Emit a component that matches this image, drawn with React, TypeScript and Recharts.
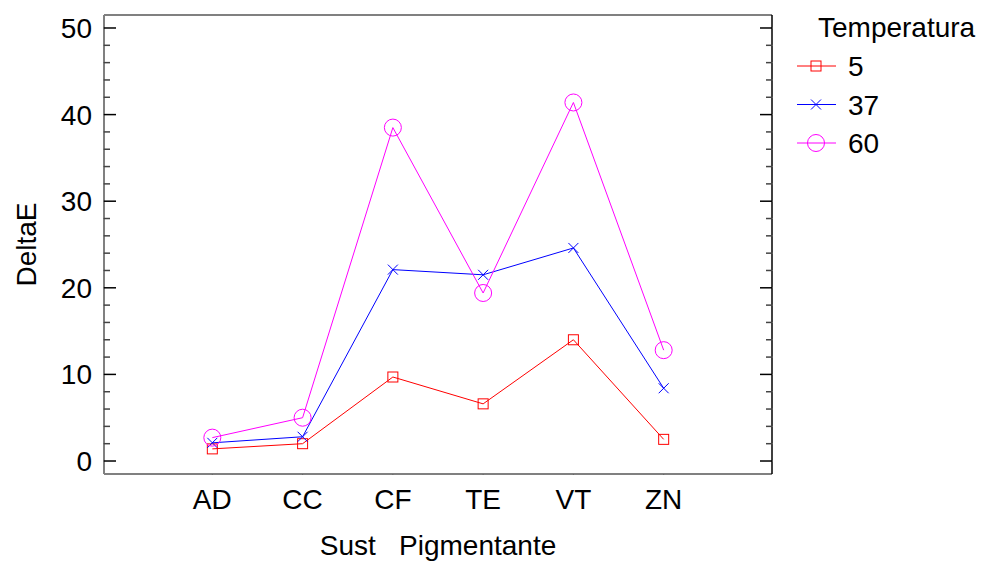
import { LineChart, Line, XAxis, YAxis, Legend } from "recharts";

const categories = ["AD", "CC", "CF", "TE", "VT", "ZN"];
const temp5 = [1.4, 2.0, 9.7, 6.6, 14.0, 2.5];
const temp37 = [2.1, 2.8, 22.1, 21.5, 24.6, 8.4];
const temp60 = [2.7, 5.0, 38.5, 19.4, 41.4, 12.8];
const yTicks = [0, 2, 4, 6, 8, 10, 12, 14, 16, 18, 20, 22, 24, 26, 28, 30, 32, 34, 36, 38, 40, 42, 44, 46, 48, 50];
const seriesNames = ["5", "37", "60"];

const data = categories.map((name, i) => ({
  idx: i,
  name,
  t5: temp5[i],
  t37: temp37[i],
  t60: temp60[i],
}));

const FONT = "'Liberation Sans', Arial, sans-serif";
const RED = "#ff0000";
const BLUE = "#0000ff";
const MAGENTA = "#ff00ff";

// tickSize is 1 on every axis, so the tick anchor sits 1px off the axis line
function LeftTick(props: any) {
  const { y, payload } = props;
  const x = props.x + 1;
  const major = payload.value % 10 === 0;
  return (
    <g>
      <line x1={x} x2={x + (major ? 12 : 6)} y1={y} y2={y} stroke={major ? "#000" : "#444"} strokeWidth={1.5} />
      {major && (
        <text x={x - 12} y={y + 10} textAnchor="end" fontSize={28} fontFamily={FONT} fill="#000">
          {payload.value}
        </text>
      )}
    </g>
  );
}

function RightTick(props: any) {
  const { y, payload } = props;
  const x = props.x - 1;
  const major = payload.value % 10 === 0;
  return <line x1={x} x2={x - (major ? 12 : 6)} y1={y} y2={y} stroke={major ? "#000" : "#444"} strokeWidth={1.5} />;
}

function BottomTick(props: any) {
  const { x, payload } = props;
  const y = props.y - 1;
  return (
    <text x={x} y={y + 35} textAnchor="middle" fontSize={28} fontFamily={FONT} fill="#000">
      {categories[payload.value]}
    </text>
  );
}

function Square(props: any) {
  const { cx, cy, stroke } = props;
  return <rect x={cx - 5} y={cy - 5} width={10} height={10} fill="none" stroke={stroke} strokeWidth={1} />;
}

function Cross(props: any) {
  const { cx, cy, stroke } = props;
  return (
    <g>
      <line x1={cx - 5} y1={cy - 5} x2={cx + 5} y2={cy + 5} stroke={stroke} strokeWidth={1} />
      <line x1={cx - 5} y1={cy + 5} x2={cx + 5} y2={cy - 5} stroke={stroke} strokeWidth={1} />
    </g>
  );
}

function Ring(props: any) {
  const { cx, cy, stroke } = props;
  return <circle cx={cx} cy={cy} r={8.5} fill="none" stroke={stroke} strokeWidth={1} />;
}

const markers = [Square, Cross, Ring];
const colors = [RED, BLUE, MAGENTA];

function LegendBox() {
  return (
    <svg width={200} height={160} style={{ display: "block" }}>
      <text x={28} y={37} fontSize={28} fontFamily={FONT} fill="#000">
        Temperatura
      </text>
      {seriesNames.map((name, i) => {
        const cy = 66 + i * 38.5;
        const Marker = markers[i];
        return (
          <g key={name}>
            <line x1={7} x2={46} y1={cy} y2={cy} stroke={colors[i]} strokeWidth={1} />
            <Marker cx={26} cy={cy} stroke={colors[i]} />
            <text x={58} y={cy + 10} fontSize={28} fontFamily={FONT} fill="#000">
              {name}
            </text>
          </g>
        );
      })}
    </svg>
  );
}

export default function App() {
  return (
    <div style={{ position: "absolute", left: 0, top: 0 }}>
      <LineChart width={992} height={561} data={data} margin={{ top: 14, right: 219, bottom: 0, left: 0 }}>
        <XAxis
          xAxisId="bottom"
          type="number"
          dataKey="idx"
          domain={[-1.2, 6.2]}
          ticks={[0, 1, 2, 3, 4, 5]}
          interval={0}
          height={87}
          tickSize={1}
          tickMargin={0}
          tick={<BottomTick />}
          axisLine={{ stroke: "#808080", strokeWidth: 2 }}
          label={{
            value: "Sust   Pigmentante",
            content: (p: any) => {
              const vb = p.viewBox;
              return (
                <text x={vb.x + vb.width / 2} y={555} textAnchor="middle" fontSize={28} fontFamily={FONT} fill="#000" style={{ whiteSpace: "pre" }}>
                  Sust   Pigmentante
                </text>
              );
            },
          }}
        />
        <XAxis
          xAxisId="top"
          orientation="top"
          type="number"
          dataKey="idx"
          domain={[-1.2, 6.2]}
          height={1}
          tick={false}
          tickLine={false}
          axisLine={{ stroke: "#808080", strokeWidth: 2 }}
        />
        <YAxis
          yAxisId="left"
          type="number"
          domain={[-1.5, 51.5]}
          ticks={yTicks}
          interval={0}
          width={104}
          tickSize={1}
          tickMargin={0}
          tick={<LeftTick />}
          axisLine={{ stroke: "#808080", strokeWidth: 2 }}
          label={{
            value: "DeltaE",
            content: (p: any) => {
              const vb = p.viewBox;
              const cy = vb.y + vb.height / 2;
              return (
                <text x={36} y={cy} transform={`rotate(-90 36 ${cy})`} textAnchor="middle" fontSize={28} fontFamily={FONT} fill="#000">
                  DeltaE
                </text>
              );
            },
          }}
        />
        <YAxis
          yAxisId="right"
          orientation="right"
          type="number"
          domain={[-1.5, 51.5]}
          ticks={yTicks}
          interval={0}
          width={1}
          tickSize={1}
          tickMargin={0}
          tick={<RightTick />}
          axisLine={{ stroke: "#000", strokeWidth: 1.5 }}
        />
        <Legend
          layout="vertical"
          align="center"
          verticalAlign="middle"
          wrapperStyle={{ left: 790, top: 0, width: 200 }}
          content={() => <LegendBox />}
        />
        {/* invisible series so the frame axes are drawn */}
        <Line xAxisId="top" yAxisId="right" dataKey="t5" stroke="none" dot={false} activeDot={false} isAnimationActive={false} />
        <Line xAxisId="bottom" yAxisId="left" dataKey="t5" name="5" stroke={RED} strokeWidth={1} dot={(p: any) => <Square key={`s${p.index}`} {...p} stroke={RED} />} isAnimationActive={false} />
        <Line xAxisId="bottom" yAxisId="left" dataKey="t37" name="37" stroke={BLUE} strokeWidth={1} dot={(p: any) => <Cross key={`c${p.index}`} {...p} stroke={BLUE} />} isAnimationActive={false} />
        <Line xAxisId="bottom" yAxisId="left" dataKey="t60" name="60" stroke={MAGENTA} strokeWidth={1} dot={(p: any) => <Ring key={`r${p.index}`} {...p} stroke={MAGENTA} />} isAnimationActive={false} />
      </LineChart>
    </div>
  );
}
